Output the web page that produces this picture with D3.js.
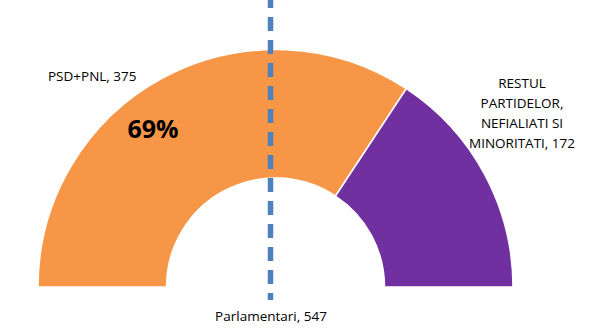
<!DOCTYPE html>
<html>
<head>
<meta charset="utf-8">
<script src="https://cdn.jsdelivr.net/npm/d3@7.9.0/dist/d3.min.js"></script>
<style>
  html, body { margin: 0; padding: 0; background: #fff; }
  svg { display: block; font-family: "Open Sans", "Noto Sans", Arial, sans-serif; }
</style>
</head>
<body>
<svg width="594" height="335"></svg>
<script>
// data
const categories = ["PSD+PNL", "RESTUL PARTIDELOR, NEFIALIATI SI MINORITATI"];
const seats = [375, 172];
const colors = ["#F79646", "#7030A0"];
const totalLabel = "Parlamentari";

const svg = d3.select("svg");
const cx = 275.5, cy = 287;

const total = d3.sum(seats);
const data = categories.map((c, i) => ({ label: c, value: seats[i], color: colors[i] }));

const pie = d3.pie()
    .value(d => d.value)
    .sort(null)
    .startAngle(-Math.PI / 2)
    .endAngle(Math.PI / 2);

const arc = d3.arc().innerRadius(109).outerRadius(237.5);

const g = svg.append("g").attr("transform", `translate(${cx},${cy})`);

g.selectAll("path")
    .data(pie(data))
    .enter()
    .append("path")
    .attr("d", arc)
    .attr("fill", d => d.data.color)
    .attr("stroke", "#fff")
    .attr("stroke-width", 1.5);

// dashed majority line
svg.append("line")
    .attr("x1", cx - 5).attr("x2", cx - 5)
    .attr("y1", -6).attr("y2", 300)
    .attr("stroke", "#4F81BD")
    .attr("stroke-width", 5.5)
    .attr("stroke-dasharray", "14,9");

// labels
svg.append("text")
    .attr("x", 48).attr("y", 81)
    .attr("font-size", 13.5)
    .attr("fill", "#000")
    .text(`${data[0].label}, ${data[0].value}`);

svg.append("text")
    .attr("x", 153).attr("y", 138)
    .attr("text-anchor", "middle")
    .attr("font-size", 25)
    .attr("font-weight", "bold")
    .attr("fill", "#000")
    .text(d3.format(".0%")(data[0].value / total));

const rightLines = ["RESTUL", "PARTIDELOR,", "NEFIALIATI SI", `MINORITATI, ${data[1].value}`];
const rt = svg.append("text")
    .attr("text-anchor", "middle")
    .attr("font-size", 13.5)
    .attr("fill", "#000");
rightLines.forEach((t, i) => {
    rt.append("tspan").attr("x", 522).attr("y", 88 + i * 20).text(t);
});

svg.append("text")
    .attr("x", 271).attr("y", 321)
    .attr("text-anchor", "middle")
    .attr("font-size", 13.5)
    .attr("fill", "#000")
    .text(`${totalLabel}, ${total}`);
</script>
</body>
</html>
